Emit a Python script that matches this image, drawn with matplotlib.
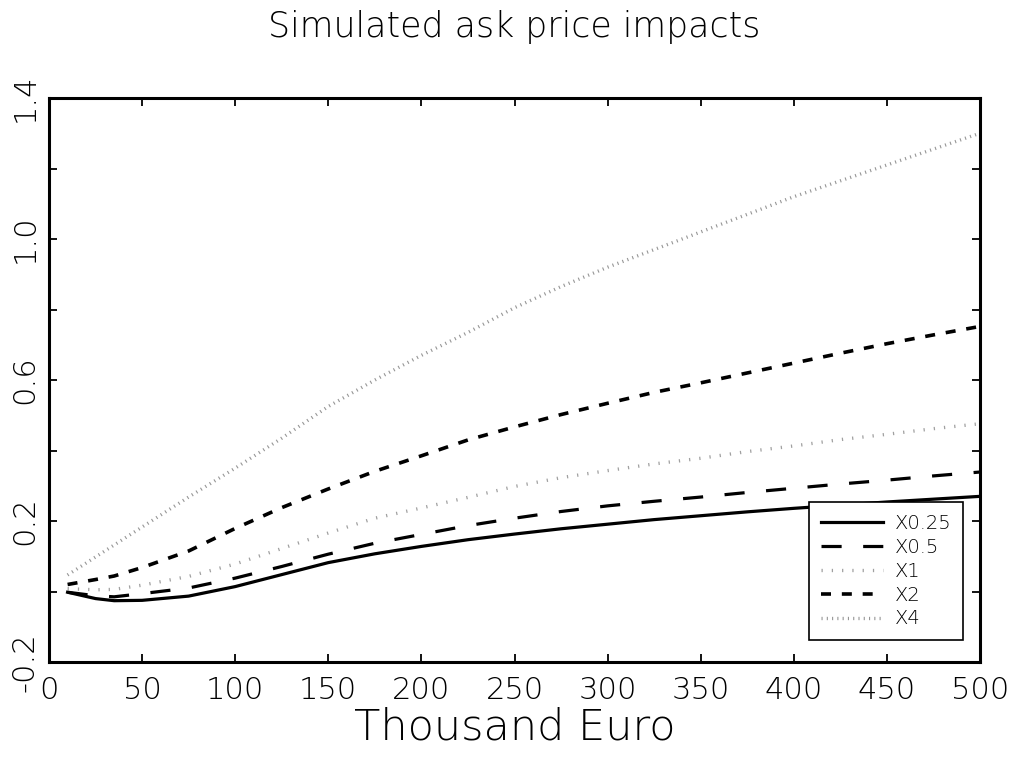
import matplotlib
matplotlib.use("Agg")
import matplotlib.pyplot as plt

# data (thousand euro -> price impact)
x = [10, 25, 35, 50, 75, 100, 125, 150, 175, 200, 225, 250, 275, 300,
     325, 350, 375, 400, 425, 450, 475, 500]
x025 = [-0.002, -0.020, -0.026, -0.025, -0.013, 0.014, 0.048, 0.082, 0.107, 0.128, 0.147,
        0.163, 0.178, 0.191, 0.204, 0.215, 0.226, 0.236, 0.245, 0.254, 0.262, 0.270]
x05 = [-0.002, -0.012, -0.015, -0.006, 0.010, 0.038, 0.071, 0.106, 0.137, 0.162, 0.187,
       0.208, 0.227, 0.243, 0.256, 0.268, 0.281, 0.293, 0.305, 0.316, 0.328, 0.339]
x1 = [0.008, 0.005, 0.006, 0.018, 0.043, 0.078, 0.122, 0.166, 0.208, 0.237, 0.267,
      0.298, 0.323, 0.343, 0.362, 0.378, 0.397, 0.413, 0.431, 0.446, 0.462, 0.476]
x2 = [0.020, 0.034, 0.044, 0.068, 0.115, 0.179, 0.238, 0.291, 0.341, 0.385, 0.430,
      0.467, 0.502, 0.534, 0.565, 0.592, 0.620, 0.648, 0.676, 0.703, 0.728, 0.752]
x4 = [0.047, 0.098, 0.132, 0.183, 0.268, 0.350, 0.435, 0.525, 0.600, 0.670, 0.735,
      0.805, 0.865, 0.920, 0.970, 1.020, 1.070, 1.120, 1.165, 1.210, 1.255, 1.300]

xticks = [0, 50, 100, 150, 200, 250, 300, 350, 400, 450, 500]
yticks = [-0.2, 0.0, 0.2, 0.4, 0.6, 0.8, 1.0, 1.2, 1.4]
ytick_labels = ['-0.2', '', '0.2', '', '0.6', '', '1.0', '', '1.4']

plt.rcParams['font.family'] = ['DejaVu Sans']
plt.rcParams['font.weight'] = 'light'
plt.rcParams['axes.titleweight'] = 'light'
plt.rcParams['axes.labelweight'] = 'light'
plt.rcParams['lines.scale_dashes'] = False

fig = plt.figure(figsize=(10.16, 7.65), dpi=100)
ax = fig.add_axes([0.0482, 0.1346, 0.9164, 0.7373])

ax.plot(x, x025, color='black', lw=2.3, ls='-', label='X0.25')
ax.plot(x, x05, color='black', lw=2.3, ls=(0, (14.5, 15.5)), label='X0.5')
ax.plot(x, x1, color='#a0a0a0', lw=2.4, ls=(0, (0.9, 6.5)), label='X1')
ax.plot(x, x2, color='black', lw=2.6, ls=(0, (7.2, 7.8)), label='X2')
ax.plot(x, x4, color='#969696', lw=2.4, ls=(0, (0.8, 3.0)), label='X4')

ax.set_xlim(0, 500)
ax.set_ylim(-0.2, 1.4)
ax.set_xticks(xticks)
ax.set_xticklabels([str(t) for t in xticks], fontsize=22)
ax.set_yticks(yticks)
ax.set_yticklabels(ytick_labels, fontsize=22, rotation=90, va='center')

ax.tick_params(axis='both', direction='in', length=6, width=1.3,
               top=True, right=True)
ax.tick_params(axis='x', pad=10)
ax.tick_params(axis='y', pad=7)
for s in ax.spines.values():
    s.set_linewidth(2.2)

ax.set_title('Simulated ask price impacts', fontsize=25, pad=44)
ax.set_xlabel('Thousand Euro', fontsize=31, labelpad=1)

leg = ax.legend(loc='lower right', bbox_to_anchor=(0.982, 0.039), borderaxespad=0,
                fontsize=14, fancybox=False, framealpha=1, edgecolor='black',
                handlelength=3.2, handletextpad=0.6, labelspacing=0.25,
                borderpad=0.6)
leg.get_frame().set_linewidth(1.2)
for t in leg.get_texts():
    t.set_color('black')

fig.savefig('out.png', dpi=100)
